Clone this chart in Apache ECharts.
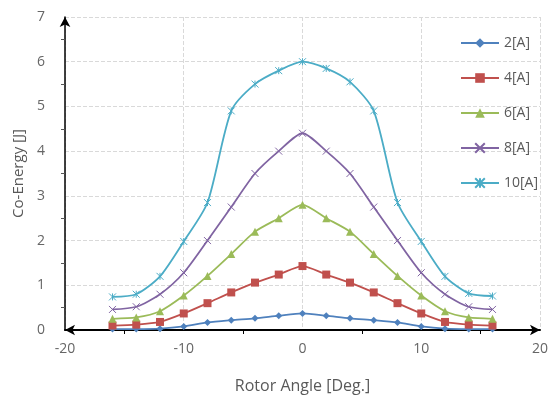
<!DOCTYPE html>
<html>
<head>
<meta charset="utf-8">
<script src="https://cdn.jsdelivr.net/npm/echarts@6/dist/echarts.min.js"></script>
<style>
  html, body { margin: 0; padding: 0; background: #fff; }
  #chart { width: 551px; height: 399px; }
</style>
</head>
<body>
<div id="chart"></div>
<script>
// rotor angle [deg]
const angles = [-16, -14, -12, -10, -8, -6, -4, -2, 0, 2, 4, 6, 8, 10, 12, 14, 16];

// co-energy [J] per current
const coEnergy2A = [0.02, 0.02, 0.03, 0.08, 0.17, 0.22, 0.26, 0.32, 0.37, 0.32, 0.26, 0.22, 0.17, 0.08, 0.03, 0.02, 0.02];
const coEnergy4A = [0.1, 0.12, 0.18, 0.37, 0.6, 0.84, 1.06, 1.24, 1.43, 1.24, 1.06, 0.84, 0.6, 0.37, 0.18, 0.12, 0.1];
const coEnergy6A = [0.25, 0.28, 0.42, 0.77, 1.21, 1.7, 2.2, 2.5, 2.8, 2.5, 2.2, 1.7, 1.21, 0.77, 0.42, 0.28, 0.25];
const coEnergy8A = [0.46, 0.52, 0.8, 1.28, 2.0, 2.75, 3.5, 4.0, 4.4, 4.0, 3.5, 2.75, 2.0, 1.28, 0.8, 0.52, 0.46];
const coEnergy10A = [0.74, 0.8, 1.2, 1.98, 2.85, 4.9, 5.5, 5.8, 6.0, 5.85, 5.55, 4.9, 2.85, 1.98, 1.2, 0.82, 0.76];

const seriesNames = ['2[A]', '4[A]', '6[A]', '8[A]', '10[A]'];
const colors = ['#4f81bd', '#c0504d', '#9bbb59', '#8064a2', '#4bacc6'];

const crossPath = 'path://M0,0L10,10M10,0L0,10';
const starPath = 'path://M0,0L10,10M10,0L0,10M5,0L5,10';

const chart = echarts.init(document.getElementById('chart'));

const pairs = (ys) => angles.map((x, i) => [x, ys[i]]);

const makeSeries = (name, ys, color, symbol, size, hollow) => ({
  name,
  type: 'line',
  smooth: 0.25,
  data: pairs(ys),
  symbol,
  symbolSize: size,
  lineStyle: { width: 1.8, color },
  itemStyle: hollow
    ? { color: color, borderColor: color, borderWidth: 1 }
    : { color },
});

const option = {
  animation: false,
  color: colors,
  textStyle: { fontFamily: 'Open Sans, sans-serif' },
  grid: { left: 65, right: 6, top: 17, bottom: 65 },
  legend: {
    orient: 'vertical',
    left: 455,
    top: 31,
    itemWidth: 38,
    itemHeight: 12,
    itemGap: 21,
    textStyle: { fontSize: 14, color: '#595959' },
    data: seriesNames,
  },
  xAxis: {
    type: 'value',
    min: -20,
    max: 20,
    interval: 10,
    name: 'Rotor Angle [Deg.]',
    nameLocation: 'middle',
    nameGap: 48,
    nameTextStyle: { fontSize: 16, color: '#595959' },
    axisLine: {
      onZero: false,
      symbol: ['arrow', 'arrow'],
      symbolSize: [8, 10],
      lineStyle: { color: '#000', width: 2 },
    },
    axisTick: { show: false },
    minorTick: { show: true, splitNumber: 2, length: 4, lineStyle: { color: '#000' } },
    axisLabel: { fontSize: 14, color: '#666', margin: 12 },
    splitLine: { show: true, lineStyle: { type: 'dashed', color: '#d9d9d9' } },
  },
  yAxis: {
    type: 'value',
    min: 0,
    max: 7,
    interval: 1,
    name: 'Co-Energy [J]',
    nameLocation: 'middle',
    nameGap: 38,
    nameTextStyle: { fontSize: 15, color: '#595959' },
    axisLine: {
      onZero: false,
      symbol: ['none', 'arrow'],
      symbolSize: [8, 10],
      lineStyle: { color: '#000', width: 1.5 },
    },
    axisTick: { show: false },
    minorTick: { show: true, splitNumber: 2, length: 4, lineStyle: { color: '#555' } },
    axisLabel: { fontSize: 14, color: '#666', margin: 20 },
    splitLine: { show: true, lineStyle: { type: 'dashed', color: '#d9d9d9' } },
  },
  series: [
    makeSeries(seriesNames[0], coEnergy2A, colors[0], 'diamond', 7),
    makeSeries(seriesNames[1], coEnergy4A, colors[1], 'rect', 8),
    makeSeries(seriesNames[2], coEnergy6A, colors[2], 'triangle', 8),
    makeSeries(seriesNames[3], coEnergy8A, colors[3], crossPath, 7, true),
    makeSeries(seriesNames[4], coEnergy10A, colors[4], starPath, 7, true),
  ],
};

chart.setOption(option);
</script>
</body>
</html>
